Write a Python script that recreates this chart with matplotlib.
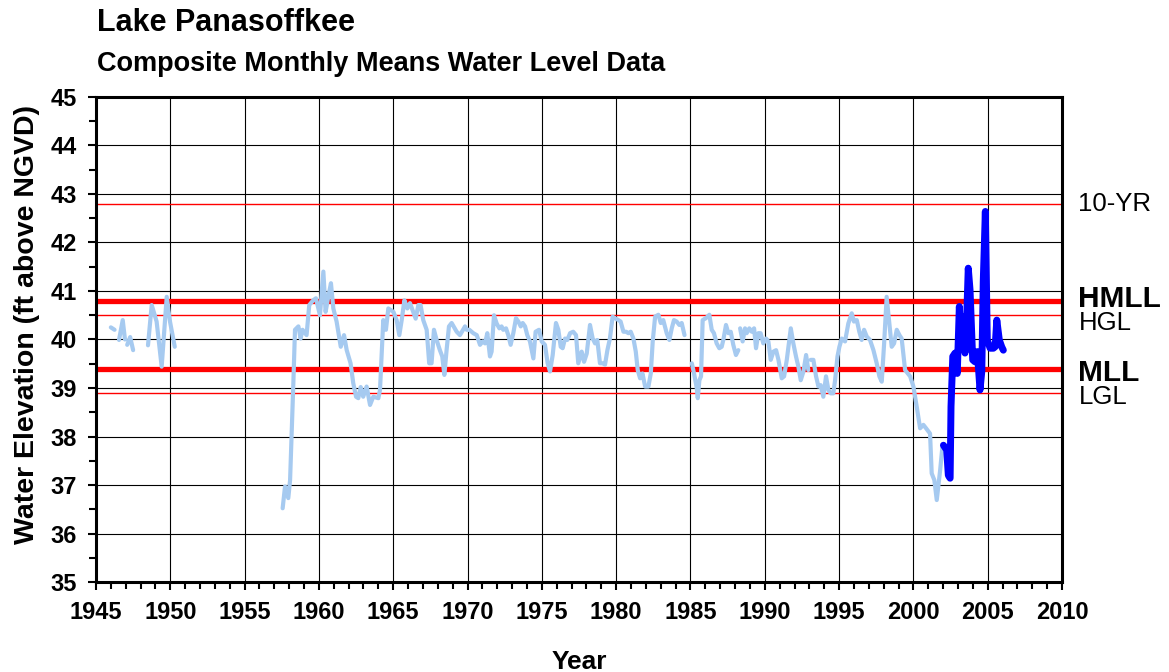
# ---------- IMPORT ------------
import numpy as np
import matplotlib
matplotlib.use("Agg")
import matplotlib.pyplot as plt
from matplotlib.ticker import MultipleLocator
# ------------------------------


# ---------- DATA --------------
nan = np.nan

# historic composite monthly means (light blue), nan = gap in record
hist_years = [
    1946.0, 1946.25, nan,
    1946.55, 1946.8, 1946.95, nan,
    1947.1, 1947.3, 1947.5, nan,
    1948.5, 1948.75, 1949.08, 1949.42, 1949.76, 1949.98, 1950.3, nan,
    1957.56, 1957.72, 1957.94, 1958.06, 1958.28, 1958.39, 1958.62, 1958.77, 1958.9, 1959.17,
    1959.35, 1959.62, 1959.8, 1960.07, 1960.3, 1960.45, 1960.63, 1960.81, 1960.97, 1961.19,
    1961.47, 1961.69, 1961.87, 1962.13, 1962.31, 1962.5, 1962.65, 1962.81, 1962.98, 1963.21,
    1963.44, 1963.66, 1964.0, 1964.11, 1964.33, 1964.51, 1964.67, 1965.01, 1965.23, 1965.41,
    1965.57, 1965.75, 1965.95, 1966.13, 1966.31, 1966.51, 1966.69, 1966.84, 1967.02, 1967.25,
    1967.42, 1967.58, 1967.74, 1967.92, 1968.14, 1968.3, 1968.44, 1968.59, 1968.75, 1968.93,
    1969.27, 1969.49, 1969.83, 1969.94, 1970.12, 1970.39, 1970.62, 1970.84, 1971.02, 1971.18,
    1971.33, 1971.51, 1971.62, 1971.78, 1971.96, 1972.14, 1972.29, 1972.4, 1972.59, 1972.74,
    1972.9, 1973.08, 1973.26, 1973.42, 1973.58, 1973.71, 1973.87, 1974.02, 1974.2, 1974.43,
    1974.58, 1974.81, 1974.99, 1975.21, 1975.39, 1975.55, 1975.73, 1975.95, 1976.11, 1976.27,
    1976.4, 1976.56, 1976.71, 1976.9, 1977.11, 1977.3, 1977.45, 1977.68, 1977.84, 1978.02,
    1978.24, 1978.42, 1978.58, 1978.73, 1978.91, 1979.09, 1979.25, 1979.41, 1979.58, 1979.76,
    1979.92, 1980.15, 1980.3, 1980.49, 1980.67, 1980.82, 1980.98, 1981.16, 1981.32, 1981.45,
    1981.61, 1981.77, 1981.95, 1982.17, 1982.33, 1982.46, 1982.62, 1982.84, 1983.0, 1983.17,
    1983.4, 1983.58, 1983.74, 1983.89, 1984.07, 1984.25, 1984.41, 1984.6, nan,
    1985.09, 1985.24, 1985.42, 1985.49, 1985.6, 1985.71, 1985.82, 1986.04, 1986.27, 1986.43,
    1986.58, 1986.76, 1986.94, 1987.1, 1987.21, 1987.39, 1987.55, 1987.71, 1987.88, 1988.06,
    1988.22, nan,
    1988.34, 1988.51, 1988.67, 1988.78, 1988.96, 1989.12, 1989.28, 1989.41, 1989.57, 1989.72,
    1989.9, 1990.09, 1990.24, 1990.4, 1990.58, 1990.76, 1990.92, 1991.14, 1991.3, 1991.48,
    1991.75, 1991.92, 1992.1, 1992.26, 1992.42, 1992.6, 1992.78, 1992.93, nan,
    1993.09, 1993.27, 1993.45, 1993.61, 1993.76, 1993.94, 1994.12, 1994.28, 1994.44, 1994.61,
    1994.73, 1994.89, 1995.02, 1995.18, 1995.4, 1995.62, 1995.85, 1996.0, 1996.19, 1996.36,
    1996.52, 1996.68, 1996.86, 1997.08, 1997.31, 1997.53, 1997.71, 1997.87, 1998.03, 1998.2,
    1998.38, 1998.54, 1998.7, 1998.88, 1999.06, 1999.21, 1999.44, 1999.78, 2000.0, 2000.22,
    2000.45, 2000.67, 2000.85, 2001.12, 2001.23, 2001.41, 2001.57, 2001.8, 2001.95,
]
hist_levels = [
    40.25, 40.2, nan,
    39.99, 40.4, 40.0, nan,
    39.89, 40.05, 39.78, nan,
    39.88, 40.71, 40.37, 39.44, 40.88, 40.37, 39.85, nan,
    36.52, 36.97, 36.73, 37.1, 39.1, 40.2, 40.27, 40.02, 40.2, 40.09,
    40.71, 40.81, 40.85, 40.5, 41.4, 40.57, 40.88, 41.16, 40.64, 40.37,
    39.85, 40.09, 39.78, 39.51, 39.1, 38.82, 38.79, 39.02, 38.82, 39.03,
    38.65, 38.82, 38.79, 38.96, 40.4, 40.2, 40.64, 40.57, 40.4, 40.09,
    40.4, 40.81, 40.64, 40.75, 40.6, 40.43, 40.71, 40.71, 40.4, 40.2,
    39.51, 39.51, 40.2, 39.99, 39.78, 39.65, 39.27, 39.78, 40.27, 40.34,
    40.16, 40.09, 40.27, 40.2, 40.2, 40.13, 40.09, 39.89, 39.96, 39.92,
    40.13, 39.65, 39.75, 40.5, 40.33, 40.23, 40.27, 40.2, 40.23, 40.09,
    39.89, 40.13, 40.44, 40.37, 40.27, 40.34, 40.27, 40.09, 39.96, 39.61,
    40.16, 40.2, 39.96, 39.89, 39.51, 39.34, 39.68, 40.34, 40.2, 39.85,
    39.82, 40.02, 39.99, 40.13, 40.16, 40.09, 39.51, 39.75, 39.54, 39.71,
    40.3, 40.02, 39.92, 39.99, 39.51, 39.51, 39.48, 39.78, 40.02, 40.47,
    40.44, 40.4, 40.37, 40.16, 40.16, 40.13, 40.16, 40.02, 39.75, 39.37,
    39.2, 39.3, 39.03, 39.03, 39.3, 39.96, 40.47, 40.51, 40.34, 40.4,
    40.13, 39.99, 40.23, 40.4, 40.37, 40.3, 40.34, 40.09, nan,
    39.51, 39.3, 39.0, 38.79, 39.16, 39.24, 40.4, 40.44, 40.51, 40.2,
    40.13, 39.92, 39.82, 39.85, 39.99, 40.3, 40.13, 40.16, 39.89, 39.68,
    39.78, nan,
    40.23, 39.96, 40.23, 40.13, 40.23, 40.16, 40.23, 39.82, 40.13, 40.13,
    39.92, 40.02, 39.96, 39.58, 39.75, 39.78, 39.58, 39.2, 39.24, 39.58,
    40.23, 39.92, 39.65, 39.44, 39.16, 39.34, 39.68, 39.37, nan,
    39.58, 39.58, 39.24, 39.03, 39.06, 38.82, 39.24, 38.96, 38.89, 38.89,
    39.16, 39.65, 39.85, 40.02, 39.96, 40.33, 40.54, 40.37, 40.4, 40.16,
    39.99, 40.2, 40.06, 39.99, 39.78, 39.51, 39.24, 39.13, 39.92, 40.88,
    40.33, 39.85, 39.92, 40.2, 40.09, 40.02, 39.37, 39.24, 39.03, 38.62,
    38.17, 38.24, 38.17, 38.06, 37.24, 37.1, 36.69, 37.31, 37.79,
]

# recent record (dark blue)
recent_years = [
    2002.02, 2002.24, 2002.35, 2002.47, 2002.53, 2002.65, 2002.8, 2002.95, 2003.09, 2003.2,
    2003.31, 2003.47, 2003.58, 2003.69, 2003.81, 2003.99, 2004.14, 2004.3, 2004.48, 2004.6,
    2004.7, 2004.84, 2004.97, 2005.16, 2005.38, 2005.5, 2005.61, 2005.78, 2005.94, 2006.05,
]
recent_levels = [
    37.82, 37.72, 37.2, 37.14, 38.62, 39.65, 39.72, 39.3, 40.68, 39.99,
    40.47, 39.72, 40.4, 41.47, 41.02, 39.58, 39.54, 39.75, 38.96, 39.34,
    41.2, 42.64, 39.99, 39.82, 39.82, 39.85, 40.4, 39.99, 39.85, 39.78,
]

# reference levels
ref_names = ["10-YR", "HMLL", "HGL", "MLL", "LGL"]
ref_levels = [42.8, 40.8, 40.5, 39.4, 38.9]
ref_bold = [False, True, False, True, False]
label_offsets = [0.0, 0.04, -0.16, -0.09, -0.08]
# ------------------------------


# ---------- CONFIG ------------
c_hist = "#A6CAF0"
c_recent = "#0000FF"
c_ref = "#FF0000"
plt.rcParams['font.family'] = ['Liberation Sans', 'DejaVu Sans']
# ------------------------------


fig = plt.figure(figsize=(11.69, 6.72), dpi=100)
ax = fig.add_axes([0.0821, 0.1339, 0.8264, 0.7218])

ax.set_xlim(1945, 2010)
ax.set_ylim(35, 45)
ax.xaxis.set_major_locator(MultipleLocator(5))
ax.xaxis.set_minor_locator(MultipleLocator(1))
ax.yaxis.set_major_locator(MultipleLocator(1))
ax.yaxis.set_minor_locator(MultipleLocator(0.5))
ax.grid(True, which="major", color="black", linewidth=0.8)
ax.set_axisbelow(True)

for name, lvl, bold in zip(ref_names, ref_levels, ref_bold):
    ax.axhline(lvl, color=c_ref, linewidth=3.8 if bold else 1.0, zorder=2)

ax.plot(hist_years, hist_levels, color=c_hist, linewidth=3.0, zorder=3,
        solid_joinstyle="round", solid_capstyle="round")
ax.plot(recent_years, recent_levels, color=c_recent, linewidth=5.0, zorder=4,
        solid_joinstyle="round", solid_capstyle="round")

for name, lvl, bold, off in zip(ref_names, ref_levels, ref_bold, label_offsets):
    ax.text(2011.1, lvl + off, name, fontsize=21.5 if bold else 18.5,
            fontweight="bold" if bold else "normal", va="center", ha="left",
            clip_on=False)

for s in ax.spines.values():
    s.set_linewidth(2.2)
ax.tick_params(which="major", direction="out", length=6, width=1.5, labelsize=17, pad=8)
ax.tick_params(which="minor", direction="out", length=5, width=1.5)
for lab in ax.get_xticklabels() + ax.get_yticklabels():
    lab.set_fontweight("bold")

ax.set_xlabel("Year", fontsize=19, fontweight="bold")
ax.xaxis.set_label_coords(0.5, -0.14)
ax.set_ylabel("Water Elevation (ft above NGVD)", fontsize=20.5, fontweight="bold")
ax.yaxis.set_label_coords(-0.058, 0.53)

fig.text(97 / 1169, 1 - 23 / 672, "Lake Panasoffkee", fontsize=22, fontweight="bold", va="center")
fig.text(97 / 1169, 1 - 64 / 672, "Composite Monthly Means Water Level Data",
         fontsize=19.5, fontweight="bold", va="center")

fig.savefig("out.png", dpi=100)
